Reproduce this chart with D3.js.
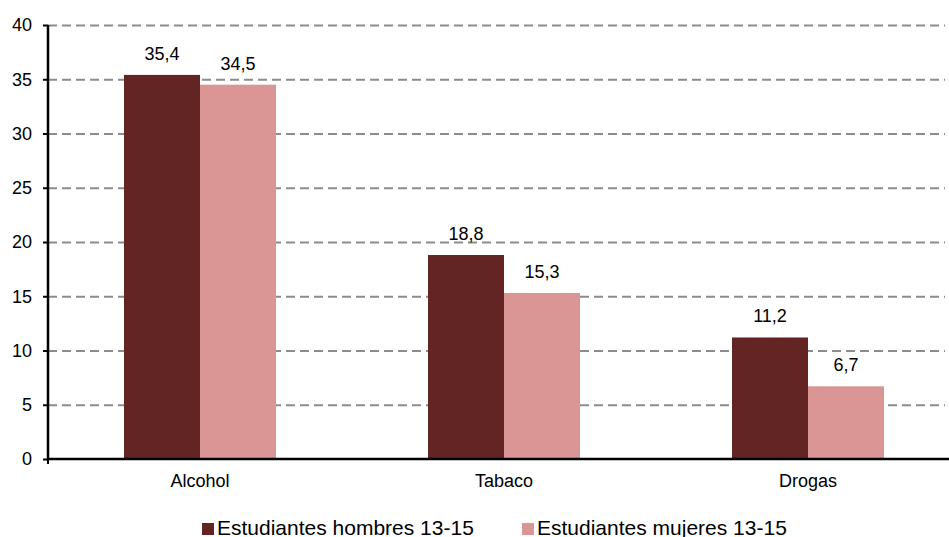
<!DOCTYPE html>
<html>
<head>
<meta charset="utf-8">
<script src="https://cdn.jsdelivr.net/npm/d3@7"></script>
<style>
  body { margin: 0; background: #fff; }
  svg { display: block; font-family: "Liberation Sans", Arial, sans-serif; }
  .grid line { stroke: #8c8c8c; stroke-dasharray: 9,5; stroke-width: 2; }
  .grid path { display: none; }
</style>
</head>
<body>
<svg id="chart"></svg>
<script>
// Data
const categories = ['Alcohol', 'Tabaco', 'Drogas'];
const seriesNames = ['Estudiantes hombres 13-15', 'Estudiantes mujeres 13-15'];
const hombres = [35.4, 18.8, 11.2];
const mujeres = [34.5, 15.3, 6.7];
const yTicks = [0, 5, 10, 15, 20, 25, 30, 35, 40];
const colors = ['#632523', '#d99694'];

const width = 949, height = 537;
const margin = { top: 25, right: -11, bottom: 78, left: 48 };
const innerWidth = width - margin.left - margin.right;
const innerHeight = height - margin.top - margin.bottom;
const font = '"Liberation Sans", Arial, sans-serif';

const svg = d3.select('#chart')
    .attr('width', width)
    .attr('height', height);

const g = svg.append('g')
    .attr('transform', `translate(${margin.left},${margin.top})`);

// Scales
const x0 = d3.scaleBand()
    .domain(categories)
    .range([0, innerWidth])
    .paddingInner(0.5)
    .paddingOuter(0.25);

const x1 = d3.scaleBand()
    .domain(seriesNames)
    .range([0, x0.bandwidth()]);

const y = d3.scaleLinear()
    .domain([0, 40])
    .range([innerHeight, 0]);

// Grid
g.append('g')
    .attr('class', 'grid')
    .call(d3.axisLeft(y).tickValues(yTicks.filter(d => d > 0)).tickSize(-(width - margin.left - 4)).tickFormat(''));

// Bars
const rows = categories.map((c, i) => ({ cat: c, values: [hombres[i], mujeres[i]] }));

const groups = g.selectAll('.group')
    .data(rows)
    .join('g')
    .attr('transform', d => `translate(${x0(d.cat)},0)`);

groups.selectAll('rect')
    .data(d => d.values.map((v, j) => ({ name: seriesNames[j], value: v, j })))
    .join('rect')
    .attr('x', d => x1(d.name))
    .attr('y', d => y(d.value))
    .attr('width', x1.bandwidth())
    .attr('height', d => innerHeight - y(d.value))
    .attr('fill', d => colors[d.j]);

groups.selectAll('.value')
    .data(d => d.values.map((v, j) => ({ name: seriesNames[j], value: v })))
    .join('text')
    .attr('class', 'value')
    .attr('x', d => x1(d.name) + x1.bandwidth() / 2)
    .attr('y', d => y(d.value) - 15)
    .attr('text-anchor', 'middle')
    .style('font-size', '18px')
    .attr('fill', '#000')
    .text(d => d.value.toFixed(1).replace('.', ','));

// Y axis
const yAxis = g.append('g')
    .call(d3.axisLeft(y).tickValues(yTicks).tickSize(5).tickPadding(11));
yAxis.attr('font-size', null).attr('font-family', null);
yAxis.select('.domain').attr('stroke', '#000').attr('stroke-width', 2.5).attr('d', `M0,0V${innerHeight}`);
yAxis.selectAll('.tick line').attr('stroke', '#000').attr('stroke-width', 2);
yAxis.selectAll('.tick text').style('font-size', '18px').attr('fill', '#000');

// X axis
const xAxis = g.append('g')
    .attr('transform', `translate(0,${innerHeight})`)
    .call(d3.axisBottom(x0).tickSize(0).tickPadding(15));
xAxis.attr('font-size', null).attr('font-family', null);
xAxis.select('.domain').attr('stroke', '#000').attr('stroke-width', 2.5).attr('d', `M0,0H${width - margin.left}`);
xAxis.selectAll('.tick text').style('font-size', '18px').attr('fill', '#000');
xAxis.append('line').attr('x1', 0).attr('x2', 0).attr('y1', 0).attr('y2', 5).attr('stroke', '#000').attr('stroke-width', 2);

// Legend
const legendX = [202, 522];
const legend = svg.append('g').attr('transform', 'translate(0,535)');
seriesNames.forEach((name, i) => {
    legend.append('rect')
        .attr('x', legendX[i])
        .attr('y', -12)
        .attr('width', 12)
        .attr('height', 12)
        .attr('fill', colors[i]);
    legend.append('text')
        .attr('x', legendX[i] + 15)
        .attr('y', 0)
        .style('font-size', '21px')
        .attr('fill', '#000')
        .text(name);
});
</script>
</body>
</html>
